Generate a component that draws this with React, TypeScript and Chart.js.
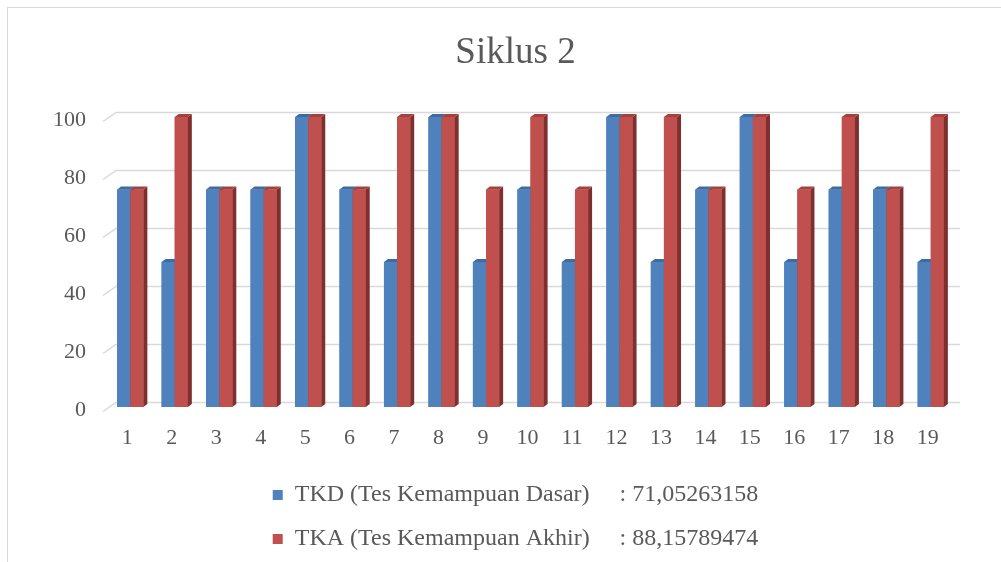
import React, { useEffect, useRef } from "react";
import { Chart, registerables } from "chart.js";

Chart.register(...registerables);

const categories = ["1", "2", "3", "4", "5", "6", "7", "8", "9", "10", "11", "12", "13", "14", "15", "16", "17", "18", "19"];
const tkdValues = [75, 50, 75, 75, 100, 75, 50, 100, 50, 75, 50, 100, 50, 75, 100, 50, 75, 75, 50];
const tkaValues = [75, 100, 75, 75, 100, 75, 100, 100, 75, 100, 75, 100, 100, 75, 100, 75, 100, 75, 100];
const titleText = "Siklus 2";
const tkdLabel = "TKD (Tes Kemampuan Dasar)     : 71,05263158";
const tkaLabel = "TKA (Tes Kemampuan Akhir)     : 88,15789474";
const yMin = 0;
const yMax = 100;
const yStep = 20;

const FONT = "'Liberation Serif', 'Times New Roman', serif";
const TEXT = "#595959";
const GRID = "#d9d9d9";
const FRONT = ["#4f81bd", "#c0504d"];
const TOP = ["#3f6b9e", "#a2413e"];
const SIDE = ["#36597f", "#7f302e"];
const DX = 4;
const DY = 3;

const depthPlugin = {
  id: "depth3d",
  beforeDatasetsDraw(chart: any) {
    const { ctx, chartArea, scales } = chart;
    const ys = scales.y;
    ctx.save();
    ctx.strokeStyle = GRID;
    ctx.lineWidth = 1.5;
    ys.ticks.forEach((t: any) => {
      const py = Math.round(ys.getPixelForValue(t.value)) + 0.5;
      ctx.beginPath();
      ctx.moveTo(chartArea.left - 5, py + 4);
      ctx.lineTo(chartArea.left + 8, py - 5);
      ctx.lineTo(chartArea.right + 7, py - 5);
      ctx.stroke();
    });
    ctx.restore();
  },
  afterDatasetsDraw(chart: any) {
    const ctx = chart.ctx;
    const metas = [chart.getDatasetMeta(0), chart.getDatasetMeta(1)];
    const n = chart.data.labels.length;
    ctx.save();
    for (let i = 0; i < n; i++) {
      for (let d = 0; d < 2; d++) {
        const el = metas[d].data[i];
        if (!el) continue;
        const { x, y, base, width } = el.getProps(["x", "y", "base", "width"], true);
        const left = x - width / 2;
        const right = x + width / 2;
        ctx.fillStyle = FRONT[d];
        ctx.fillRect(left, y, width, base - y);
        ctx.fillStyle = SIDE[d];
        ctx.beginPath();
        ctx.moveTo(right, y);
        ctx.lineTo(right + DX, y - DY);
        ctx.lineTo(right + DX, base - DY);
        ctx.lineTo(right, base);
        ctx.closePath();
        ctx.fill();
        ctx.fillStyle = TOP[d];
        ctx.beginPath();
        ctx.moveTo(left, y);
        ctx.lineTo(left + DX, y - DY);
        ctx.lineTo(right + DX, y - DY);
        ctx.lineTo(right, y);
        ctx.closePath();
        ctx.fill();
      }
    }
    ctx.restore();
  },
};

export default function App() {
  const ref = useRef<HTMLCanvasElement | null>(null);

  useEffect(() => {
    if (!ref.current) return;
    const chart = new Chart(ref.current, {
      type: "bar",
      data: {
        labels: categories,
        datasets: [
          { label: tkdLabel, data: tkdValues, backgroundColor: FRONT[0], borderWidth: 0 },
          { label: tkaLabel, data: tkaValues, backgroundColor: FRONT[1], borderWidth: 0 },
        ],
      },
      options: {
        responsive: false,
        animation: false,
        events: [],
        layout: { padding: { top: 10, left: 15, right: 0, bottom: 7 } },
        datasets: { bar: { categoryPercentage: 0.59, barPercentage: 1 } },
        plugins: {
          title: {
            display: true,
            text: titleText,
            color: TEXT,
            font: { family: FONT, size: 37, weight: "normal" },
            padding: { top: 13, bottom: 41.6 },
          },
          legend: {
            position: "bottom",
            labels: {
              boxWidth: 10,
              boxHeight: 10,
              padding: 20,
              color: TEXT,
              font: { family: FONT, size: 24 },
            },
          },
          tooltip: { enabled: false },
        },
        scales: {
          x: {
            grid: { display: false, drawTicks: false },
            border: { display: false },
            ticks: { color: TEXT, font: { family: FONT, size: 22 }, padding: 18, labelOffset: -3, maxRotation: 0, autoSkip: false },
            afterFit: (s: any) => { s.height = 56; },
          },
          y: {
            min: yMin,
            max: yMax,
            grid: { display: false, drawTicks: false },
            border: { display: false },
            ticks: { stepSize: yStep, color: TEXT, font: { family: FONT, size: 22 }, padding: 22, labelOffset: 3 },
            afterFit: (s: any) => { s.width = 85; },
          },
          y2: {
            position: "right",
            display: true,
            min: 0,
            max: 1,
            grid: { display: false, drawTicks: false },
            border: { display: false },
            ticks: { display: false },
            afterFit: (s: any) => { s.width = 55; },
          },
        },
      },
      plugins: [depthPlugin],
    } as any);
    return () => chart.destroy();
  }, []);

  return (
    <div
      style={{
        position: "fixed",
        left: 7,
        top: 7,
        width: 1000,
        height: 560,
        border: "1px solid #d9d9d9",
        background: "#fff",
      }}
    >
      <canvas ref={ref} width={1000} height={560} style={{ display: "block" }} />
    </div>
  );
}
